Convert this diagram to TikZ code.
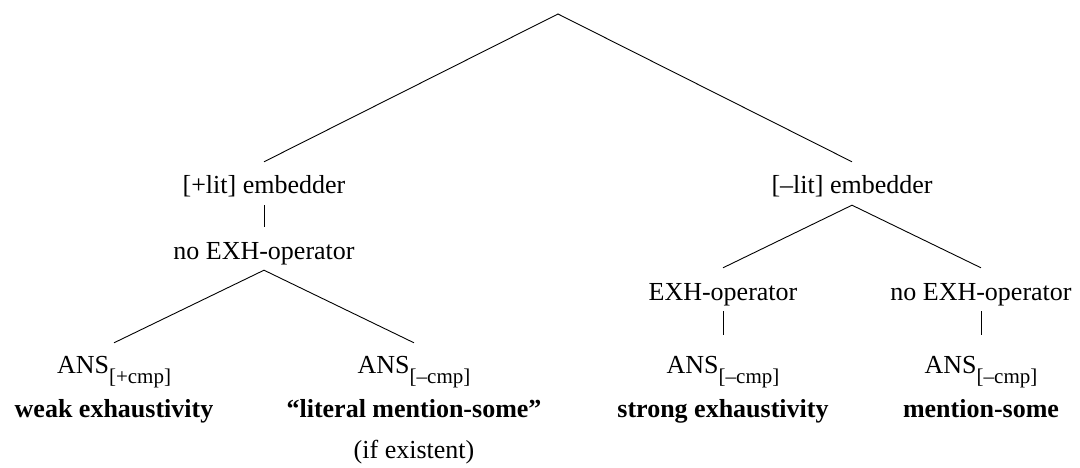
\documentclass[tikz,border=0pt]{standalone}
\usepackage{fontspec}
\setmainfont{Liberation Serif}
\newcommand\treefont{\fontsize{26}{30}\selectfont}
\newcommand\subfont{\fontsize{21}{24}\selectfont}
% answer operator with its bracketed feature as a subscript
\newcommand\ansop[1]{ANS\raisebox{-10pt}{\subfont[#1]}}
\begin{document}
\begin{tikzpicture}[x=1pt,y=-1pt,
  lab/.style={anchor=base, inner sep=0pt, text height=32pt, text depth=11pt, font=\treefont},
  ansl/.style={lab, text height=30pt},
  ansr/.style={lab, text height=38pt},
  leaf/.style={anchor=base, inner sep=0pt, font=\treefont\bfseries},
  note/.style={anchor=base, inner sep=0pt, font=\treefont},
  edge/.style={line width=0.9pt, black}]
\useasboundingbox (0,0) rectangle (1080,468);

% root of the tree
\coordinate (root) at (558,14);

% left branch
\node[lab] (plus)   at (264,194) {[+lit] embedder};
\node[lab] (noexhL) at (264,259) {no EXH-operator};
\node[ansl] (ansA)  at (114,373) {\ansop{+cmp}};
\node[leaf] (weak)  at (114,417) {weak exhaustivity};
\node[ansl] (ansB)  at (414,373) {\ansop{\textendash cmp}};
\node[leaf] (lit)   at (414,417) {“literal mention-some”};
\node[note] (ifex)  at (414,458) {(if existent)};

% right branch
\node[lab] (minus)  at (852,194) {[\textendash lit] embedder};
\node[lab] (exh)    at (723,300) {EXH-operator};
\node[lab] (noexhR) at (981,300) {no EXH-operator};
\node[ansr] (ansC)  at (723,373) {\ansop{\textendash cmp}};
\node[leaf] (strong) at (723,417) {strong exhaustivity};
\node[ansr] (ansD)  at (981,373) {\ansop{\textendash cmp}};
\node[leaf] (ms)    at (981,417) {mention-some};

% edges
\draw[edge] (plus.north) -- (root) -- (minus.north);
\draw[edge] (plus.south) -- (noexhL.north);
\draw[edge] (ansA.north) -- (noexhL.south) -- (ansB.north);
\draw[edge] (exh.north) -- (minus.south) -- (noexhR.north);
\draw[edge] (exh.south) -- (ansC.north);
\draw[edge] (noexhR.south) -- (ansD.north);
\end{tikzpicture}
\end{document}
